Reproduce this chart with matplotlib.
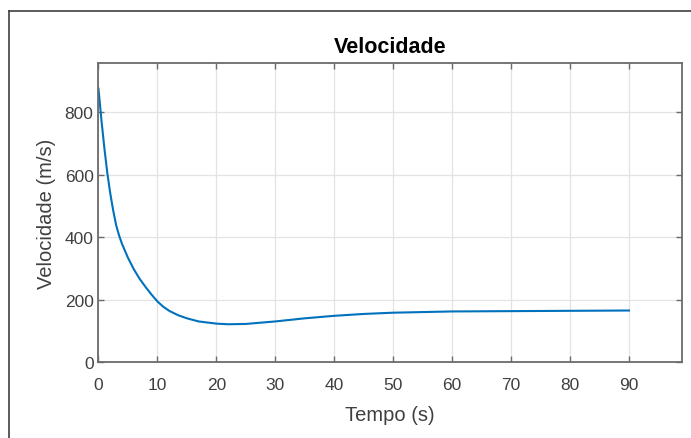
import matplotlib
matplotlib.use("Agg")
from matplotlib import pyplot as plt
from matplotlib.lines import Line2D

plt.rcParams['font.family'] = ['Liberation Sans', 'DejaVu Sans']

# values
tempo = [0, 0.5, 1, 1.5, 2, 2.5, 3, 3.5, 4, 5, 6, 7, 8, 9, 10, 11, 12, 13.5, 15,
         17, 20, 22, 25, 30, 35, 40, 45, 50, 55, 60, 70, 80, 90]
velocidade = [875, 775, 685, 605, 540, 485, 438, 405, 378, 334, 297, 266, 240,
              216, 194, 177, 164, 150, 140, 130, 123, 121, 122, 130, 140, 148, 154,
              158, 160, 162, 163, 164, 165]
xticks = [0, 10, 20, 30, 40, 50, 60, 70, 80, 90]
yticks = [0, 200, 400, 600, 800]

fig = plt.figure(figsize=(6.91, 4.39), dpi=100)
ax = fig.add_axes([0.1425, 0.173, 0.8445, 0.681])

ax.plot(tempo, velocidade, color='#0072BD', lw=1.5)

ax.set_xlim(0, 99)
ax.set_ylim(0, 957)
ax.set_xticks(xticks)
ax.set_yticks(yticks)
ax.grid(True, color='#e3e3e3', lw=0.9)
ax.set_axisbelow(True)

for s in ax.spines.values():
    s.set_color('#6b6b6b')
    s.set_linewidth(1.3)
ax.tick_params(direction='in', length=4, width=1, color='#6b6b6b',
               top=True, right=True, labelsize=12.5, labelcolor='#404040')
ax.tick_params(axis='x', pad=11)

ax.set_title('Velocidade', fontsize=15.5, fontweight='bold', pad=8)
ax.set_xlabel('Tempo (s)', fontsize=14.5, color='#404040', labelpad=9)
ax.set_ylabel('Velocidade (m/s)', fontsize=14.5, color='#404040', labelpad=6)

# screenshot frame
fig.add_artist(Line2D([9/691, 1], [1 - 12/439, 1 - 12/439], color='#404040', lw=1.2))
fig.add_artist(Line2D([9/691, 9/691], [0, 1 - 12/439], color='#404040', lw=1.2))

plt.savefig('out.png', dpi=100)
